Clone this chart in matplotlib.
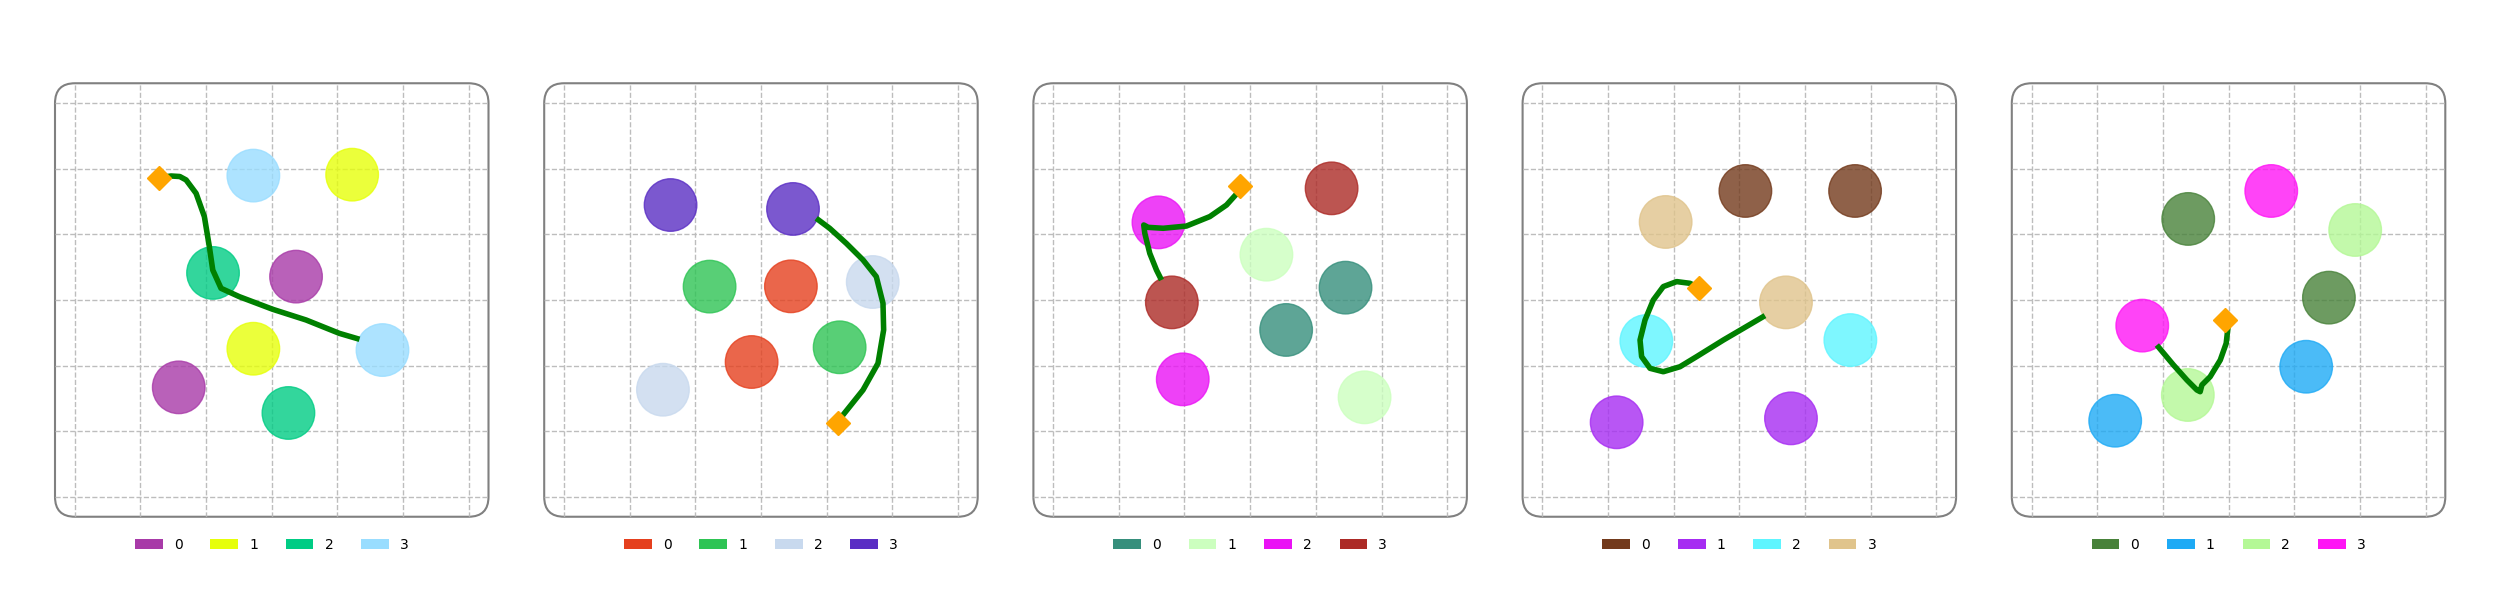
import numpy as np
import matplotlib
matplotlib.use("Agg")
import matplotlib.pyplot as plt
from matplotlib.patches import Circle, FancyBboxPatch, Patch

# ──────────────────────────────────────────────────────────────────────────────
# DATA (grid spacing = 0.5 units)
# ──────────────────────────────────────────────────────────────────────────────
labels = ["0", "1", "2", "3"]

colors_1 = ["#a83aa8", "#e6ff0a", "#00cc84", "#99ddff"]
circle_x_1 = [0.185, -0.708, 0.612, -0.140, -0.447, 0.127, -0.140, 0.843]
circle_y_1 = [0.178, -0.665, 0.954, -0.371, 0.206, -0.860, 0.947, -0.381]
start_1 = (-0.855, 0.931)
path_x_1 = [-0.855, -0.766, -0.700, -0.652, -0.576, -0.513, -0.475, -0.449, -0.386,
            -0.246, 0.008, 0.261, 0.515, 0.668]
path_y_1 = [0.931, 0.944, 0.940, 0.914, 0.812, 0.635, 0.406, 0.228, 0.089,
            0.025, -0.071, -0.152, -0.254, -0.299]

colors_2 = ["#e5401e", "#2ec454", "#c8d9ee", "#5a2ec4"]
circle_x_2 = [0.228, -0.071, -0.391, 0.599, 0.851, -0.746, -0.688, 0.244]
circle_y_2 = [0.104, -0.472, 0.102, -0.360, 0.137, -0.683, 0.723, 0.693]
start_2 = (0.586, -0.937)
path_x_2 = [0.586, 0.624, 0.777, 0.891, 0.934, 0.929, 0.878, 0.777, 0.650,
            0.523, 0.421]
path_y_2 = [-0.937, -0.876, -0.685, -0.482, -0.228, -0.025, 0.178, 0.305,
            0.431, 0.546, 0.622]

colors_3 = ["#368f7c", "#ccffbf", "#ea12f5", "#ac2a26"]
circle_x_3 = [0.726, 0.274, 0.124, 0.871, -0.698, -0.513, 0.620, -0.596]
circle_y_3 = [0.094, -0.228, 0.345, -0.741, 0.591, -0.604, 0.850, -0.018]
start_3 = (-0.079, 0.871)
path_x_3 = [-0.079, -0.104, -0.180, -0.307, -0.485, -0.662, -0.777, -0.810,
            -0.802, -0.764, -0.713, -0.675]
path_y_3 = [0.871, 0.807, 0.723, 0.635, 0.563, 0.546, 0.553, 0.571,
            0.508, 0.355, 0.228, 0.152]

colors_4 = ["#733a1c", "#a62cf2", "#5ef5ff", "#e0c48c"]
circle_x_4 = [0.046, 0.881, -0.934, 0.393, -0.708, 0.845, -0.561, 0.355]
circle_y_4 = [0.830, 0.830, -0.931, -0.901, -0.312, -0.305, 0.594, -0.018]
start_4 = (-0.310, 0.094)
path_x_4 = [-0.310, -0.376, -0.477, -0.579, -0.655, -0.718, -0.756, -0.744,
            -0.680, -0.579, -0.452, -0.325, -0.122, 0.030, 0.195]
path_y_4 = [0.094, 0.127, 0.140, 0.102, 0.000, -0.152, -0.305, -0.431,
            -0.520, -0.546, -0.508, -0.431, -0.305, -0.216, -0.119]

colors_5 = ["#48823a", "#1eaaf5", "#b4f896", "#ff15f5"]
circle_x_5 = [-0.307, 0.764, 0.591, -0.863, 0.964, -0.310, 0.325, -0.657]
circle_y_5 = [0.617, 0.018, -0.508, -0.919, 0.533, -0.723, 0.830, -0.195]
start_5 = (-0.025, -0.150)
path_x_5 = [-0.025, -0.005, -0.018, -0.063, -0.140, -0.203, -0.216, -0.241,
            -0.317, -0.419, -0.546]
path_y_5 = [-0.150, -0.216, -0.330, -0.457, -0.584, -0.647, -0.698, -0.685,
            -0.609, -0.495, -0.343]

panels = [
    (colors_1, circle_x_1, circle_y_1, start_1, path_x_1, path_y_1),
    (colors_2, circle_x_2, circle_y_2, start_2, path_x_2, path_y_2),
    (colors_3, circle_x_3, circle_y_3, start_3, path_x_3, path_y_3),
    (colors_4, circle_x_4, circle_y_4, start_4, path_x_4, path_y_4),
    (colors_5, circle_x_5, circle_y_5, start_5, path_x_5, path_y_5),
]

GRID_TICKS = np.arange(-1.5, 1.51, 0.5)
LIM = 1.65
RADIUS = 0.2

# ──────────────────────────────────────────────────────────────────────────────
# PLOT
# ──────────────────────────────────────────────────────────────────────────────
fig = plt.figure(figsize=(25, 6), dpi=100)

for i, (cols, cx, cy, start, px, py) in enumerate(panels):
    left = (55 + i * 489.2) / 2500
    ax = fig.add_axes([left, (600 - 517) / 600, 433.5 / 2500, 434 / 600])
    ax.set_xlim(-LIM, LIM)
    ax.set_ylim(-LIM, LIM)
    ax.set_aspect("equal")
    ax.patch.set_visible(False)
    for s in ax.spines.values():
        s.set_visible(False)
    ax.set_xticks(GRID_TICKS)
    ax.set_yticks(GRID_TICKS)
    ax.tick_params(length=0, labelbottom=False, labelleft=False)

    # rounded frame; grid is clipped to it
    box = FancyBboxPatch((0, 0), 1, 1, boxstyle="round,pad=0,rounding_size=0.046",
                         transform=ax.transAxes, facecolor="white",
                         edgecolor="gray", linewidth=1.5, clip_on=False, zorder=0)
    ax.add_patch(box)
    ax.grid(True, linestyle="--", color="#bdbdbd", linewidth=1.0)
    ax.set_axisbelow(True)
    for gl in ax.get_xgridlines() + ax.get_ygridlines():
        gl.set_clip_path(box)

    # circles come in pairs, two per colour
    for k in range(len(cx)):
        c = cols[k // 2]
        ax.add_patch(Circle((cx[k], cy[k]), RADIUS, facecolor=c, edgecolor=c,
                            alpha=0.8, linewidth=1.0, zorder=2))

    ax.plot(px, py, color="green", linewidth=4, solid_capstyle="butt",
            solid_joinstyle="round", zorder=3)
    ax.plot([start[0]], [start[1]], marker="D", color="orange",
            markersize=12, linestyle="none", zorder=4)

    handles = [Patch(facecolor=c, label=l) for c, l in zip(cols, labels)]
    ax.legend(handles=handles, loc="upper center", bbox_to_anchor=(0.5, -0.02),
              ncol=4, frameon=False, fontsize=10)

fig.savefig("out.png", dpi=100)
